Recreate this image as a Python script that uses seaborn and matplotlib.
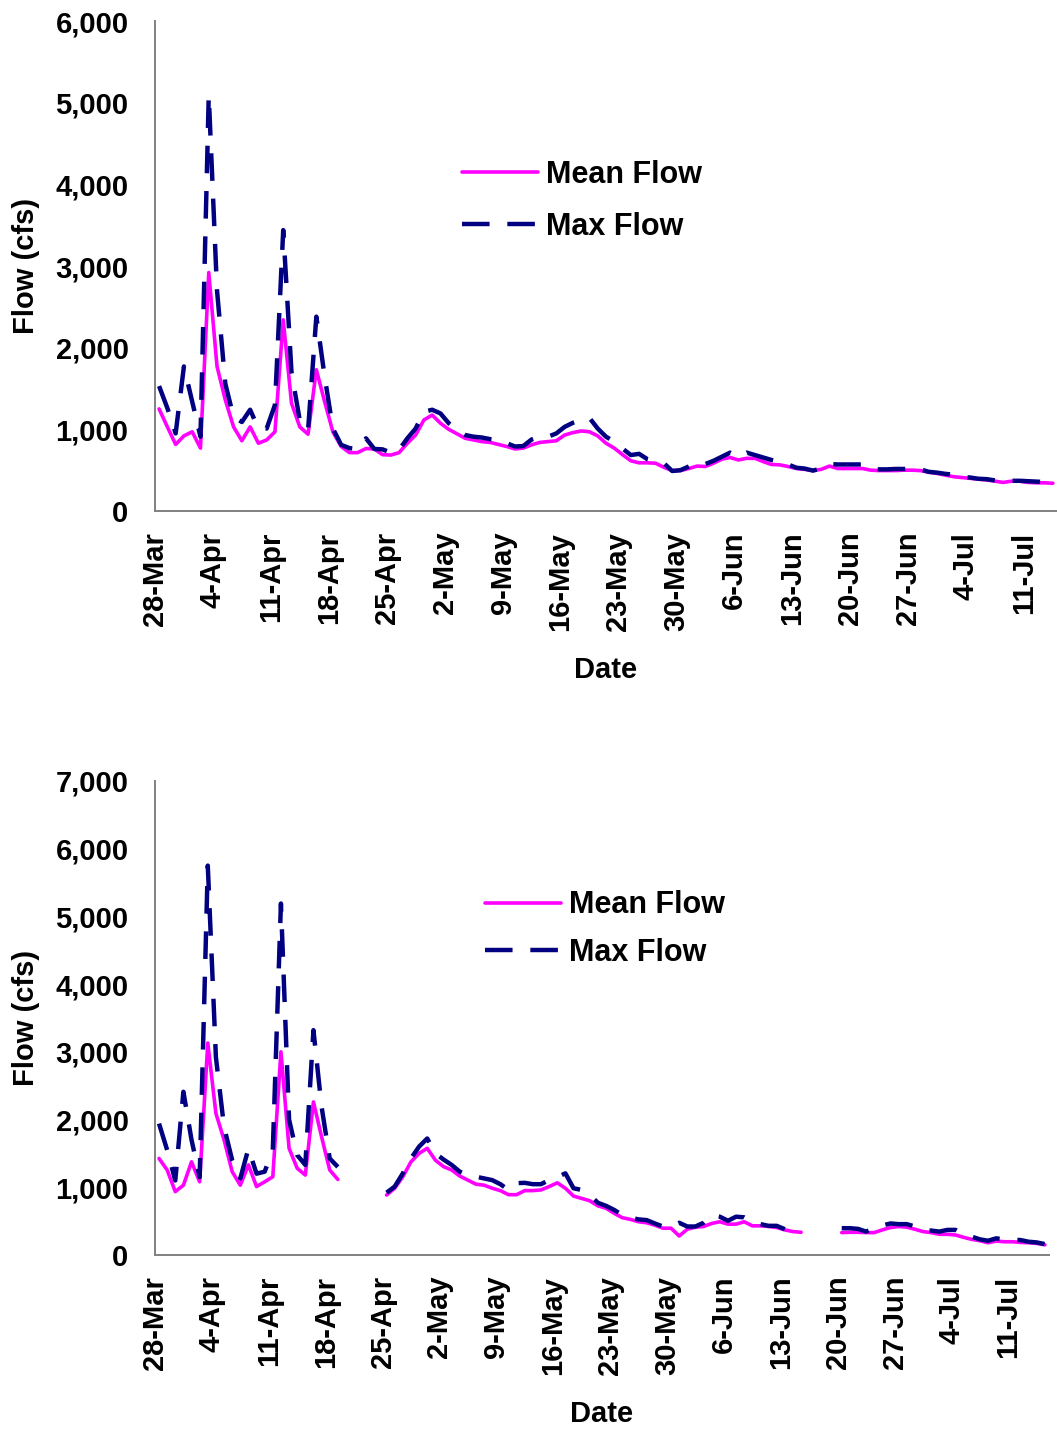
import numpy as np
import pandas as pd
import seaborn as sns
import matplotlib.pyplot as plt
from matplotlib.lines import Line2D
from matplotlib.ticker import FuncFormatter

nan = np.nan

# tick labels (one per week starting 28-Mar)
tick_labels = ['28-Mar', '4-Apr', '11-Apr', '18-Apr', '25-Apr', '2-May', '9-May',
               '16-May', '23-May', '30-May', '6-Jun', '13-Jun', '20-Jun', '27-Jun',
               '4-Jul', '11-Jul']

# upper panel: daily flows (cfs), day 0 = 28-Mar
top_mean = [1250, 1030, 815, 920, 970, 770, 2920, 1770, 1360, 1030,
            860, 1030, 830, 870, 970, 2340, 1320, 1030, 940, 1730,
            1340, 970, 790, 715, 715, 765, 760, 690, 685, 715,
            830, 930, 1115, 1175, 1075, 1000, 945, 890, 870, 850,
            840, 815, 790, 760, 770, 810, 840, 850, 860, 930,
            960, 980, 970, 920, 830, 770, 690, 615, 590, 590,
            585, 535, 495, 495, 520, 550, 545, 585, 635, 655,
            625, 645, 645, 605, 570, 565, 545, 520, 510, 495,
            510, 550, 520, 520, 520, 520, 500, 495, 495, 495,
            500, 500, 495, 475, 460, 440, 420, 410, 400, 390,
            380, 365, 350, 365, 365, 350, 345, 345, 340]
top_max = [1530, 1260, 950, 1770, 1340, 910, 5090, 2700, 1560, 1150,
           1090, 1240, 1010, 1010, 1300, 3440, 1700, 1110, 990, 2380,
           1650, 1010, 810, 770, 760, 890, 760, 755, 715, 750,
           890, 1010, 1215, 1240, 1195, 1075, 990, 930, 910, 900,
           880, 870, 830, 790, 795, 875, 910, 910, 950, 1030,
           1080, 1115, 1140, 1010, 910, 850, 765, 685, 700, 635,
           610, 585, 490, 500, 545, 590, 575, 615, 665, 715,
           665, 715, 685, 655, 625, 605, 570, 530, 520, 495,
           520, 575, 570, 570, 570, 570, 520, 510, 510, 515,
           515, 515, 510, 480, 470, 455, 445, 420, 410, 395,
           390, 375, 365, 370, 370, 365, 360, 355, 345]

# lower panel: daily flows (cfs), gaps where no record
bot_mean = [1425, 1255, 935, 1030, 1375, 1080, 3130, 2090, 1700, 1230,
            1030, 1330, 1010, 1080, 1155, 3000, 1575, 1280, 1180, 2260,
            1745, 1255, 1115, nan, nan, nan, nan, nan, 885, 985,
            1155, 1375, 1500, 1575, 1400, 1305, 1255, 1165, 1105, 1045,
            1030, 985, 950, 890, 890, 950, 950, 960, 1010, 1065,
            985, 870, 835, 800, 725, 690, 615, 550, 525, 490,
            475, 440, 395, 395, 280, 380, 410, 420, 465, 490,
            455, 455, 490, 430, 430, 420, 405, 370, 345, 335,
            nan, nan, nan, nan, 330, 335, 335, 330, 330, 370,
            405, 420, 410, 380, 345, 330, 305, 305, 295, 260,
            230, 210, 180, 205, 195, 195, 185, 180, 170, 150]
bot_max = [1940, 1550, 1100, 2410, 1700, 1150, 5750, 2920, 1890, 1400,
           1130, 1570, 1200, 1230, 1550, 5190, 2000, 1475, 1330, 3320,
           2190, 1425, 1300, nan, nan, nan, nan, nan, 920, 1010,
           1205, 1425, 1600, 1720, 1500, 1410, 1330, 1230, 1180, 1155,
           1130, 1105, 1045, 960, 1060, 1065, 1045, 1045, 1105, 1150,
           1205, 985, 960, 885, 770, 725, 665, 590, 550, 525,
           515, 465, 420, 420, 475, 420, 420, 475, 590, 565,
           505, 565, 555, 490, 455, 430, 430, 380, nan, nan,
           nan, nan, nan, nan, 395, 395, 385, 345, 400, 435,
           465, 455, 455, 420, 370, 360, 345, 370, 370, 300,
           270, 230, 210, 245, 230, 225, 220, 195, 185, 160]

MAGENTA = '#FF00FF'
NAVY = '#000080'
GREY = '#808080'
FONT = ['Liberation Sans', 'DejaVu Sans']


def to_frame(values):
    """Long frame with a segment id so gaps stay gaps."""
    y = pd.Series(values, dtype=float)
    seg = y.isna().cumsum()
    df = pd.DataFrame({'day': np.arange(len(values)) + 0.5, 'flow': y, 'seg': seg})
    return df.dropna()


def draw_panel(ax, mean, mx, ymax, xmax, legend_xy, spacing, label_x, date_y):
    sns.lineplot(data=to_frame(mean), x='day', y='flow', units='seg', estimator=None,
                 color=MAGENTA, linewidth=2.6, ax=ax)
    sns.lineplot(data=to_frame(mx), x='day', y='flow', units='seg', estimator=None,
                 color=NAVY, linewidth=3.2, linestyle=(0, (6.2, 4.0)), ax=ax)

    ax.set_xlim(0, xmax)
    ax.set_ylim(0, ymax)
    ax.set_xticks(np.arange(len(tick_labels)) * 7)
    ax.set_xticklabels(tick_labels, rotation=90, fontsize=21, fontweight='bold', family=FONT)
    ax.set_yticks(np.arange(0, ymax + 1, 1000))
    ax.yaxis.set_major_formatter(FuncFormatter(lambda v, p: f'{int(v):,}'))
    for t in ax.get_yticklabels():
        t.set_fontsize(21)
        t.set_fontweight('bold')
        t.set_family(FONT)

    ax.tick_params(axis='x', direction='out', length=7, width=1.4, color=GREY,
                   labelcolor='black', pad=8)
    ax.tick_params(axis='y', direction='out', length=6, width=1.4, color=GREY,
                   labelcolor='black', pad=13)
    for side in ['top', 'right']:
        ax.spines[side].set_visible(False)
    for side in ['left', 'bottom']:
        ax.spines[side].set_color(GREY)
        ax.spines[side].set_linewidth(1.4)

    ax.set_xlabel('Date', fontsize=21, fontweight='bold', family=FONT, color='black')
    ax.set_ylabel('Flow (cfs)', fontsize=21, fontweight='bold', family=FONT, color='black')
    ax.xaxis.set_label_coords(0.5, date_y)
    ax.yaxis.set_label_coords(label_x, 0.5)

    handles = [Line2D([], [], color=MAGENTA, linewidth=2.6),
               Line2D([], [], color=NAVY, linewidth=3.2, linestyle=(0, (6.2, 4.0)))]
    leg = ax.legend(handles, ['Mean Flow', 'Max Flow'], loc='upper left',
                    bbox_to_anchor=legend_xy, frameon=False, borderpad=0, borderaxespad=0,
                    handlelength=2.5, handletextpad=0.25, labelspacing=spacing,
                    prop={'family': FONT, 'weight': 'bold', 'size': 22})
    for t in leg.get_texts():
        t.set_color('black')


sns.set_style('white')
plt.rcParams['font.family'] = FONT
plt.rcParams['text.color'] = 'black'

fig = plt.figure(figsize=(10.57, 14.29), dpi=100)
ax_top = fig.add_axes([0.1466, 0.6424, 0.8534, 0.3429])
ax_bot = fig.add_axes([0.1466, 0.1218, 0.8458, 0.3317])

draw_panel(ax_top, top_mean, top_max, 6000, 109, (0.340, 0.7165), 0.71, -0.1275, -0.295)
draw_panel(ax_bot, bot_mean, bot_max, 7000, 110, (0.369, 0.7695), 0.58, -0.1286, -0.306)

fig.savefig('out.png', dpi=100)
